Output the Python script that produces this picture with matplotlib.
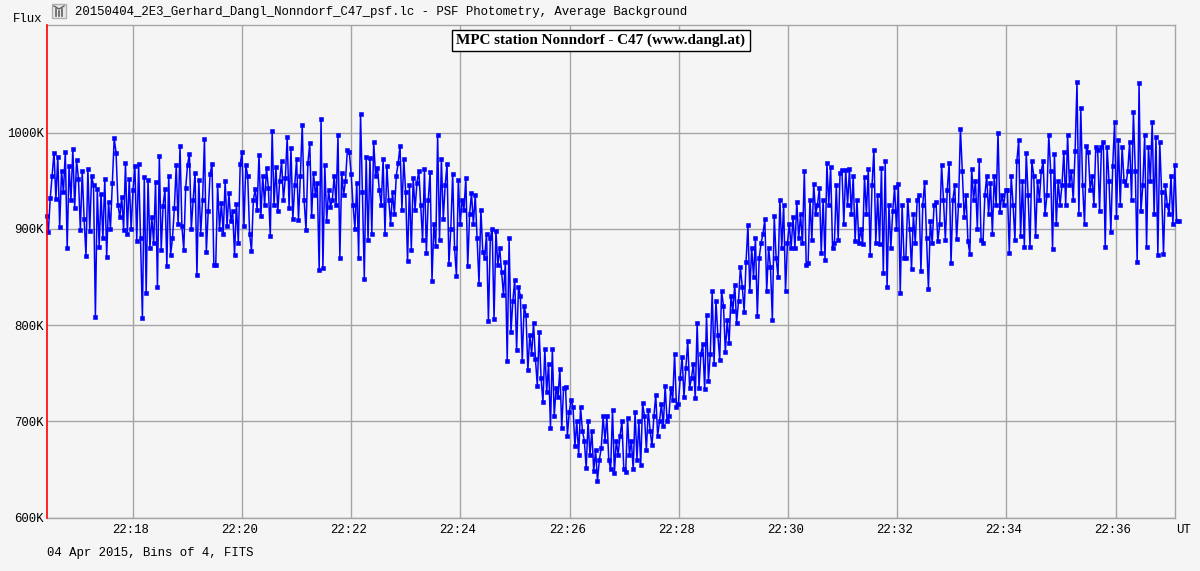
import numpy as np
import matplotlib
matplotlib.use("Agg")
import matplotlib.pyplot as plt
from matplotlib.patches import Rectangle
from matplotlib.transforms import ScaledTranslation

# flux readings in thousands in three stretches
flux_start = [
    913, 897, 932, 955, 979, 931, 975, 902, 960, 938,
    980, 880, 965, 930, 983, 922, 971, 952, 899, 960,
    910, 872, 962, 898, 955, 945, 808, 941, 881, 936,
    890, 952, 871, 928, 900, 948, 994, 979, 925, 912,
    933, 899, 968, 895, 952, 900, 940, 965, 887, 967,
    890, 807, 954, 833, 951, 880, 912, 885, 949, 840,
    976, 878, 924, 941, 861, 955, 873, 890, 922, 966,
    905, 986, 903, 878, 942, 966, 978, 900, 930, 958,
    852, 951, 895, 930, 993, 876, 918, 957, 967, 862,
    862, 945, 900, 927, 895, 950, 903, 937, 908, 918,
    873, 926, 885, 967, 980, 903, 966, 955, 895, 877,
    930, 941, 920, 977, 913, 955, 925, 963, 942, 892,
    1002, 925, 964, 918, 950, 970, 930, 953, 995, 922,
    984, 910, 945, 972, 909, 955, 1008, 930, 899, 968,
    989, 913, 958, 935, 948, 857, 1014, 859, 966, 908,
    940, 923, 930, 955, 925, 997, 870, 958, 935, 950,
    982, 980, 957, 925, 900, 948, 870, 1019, 938, 848,
    975, 888, 973, 895, 990, 955, 963, 940, 925, 972,
    895, 965, 930, 905, 938, 915, 955, 968,
]
flux_dip = [
    986, 920, 972, 938, 866, 945, 878, 953, 920, 948,
    960, 925, 888, 962, 875, 930, 959, 846, 905, 882,
    997, 888, 972, 910, 945, 967, 863, 900, 957, 880,
    851, 951, 905, 930, 920, 953, 861, 915, 937, 905,
    935, 890, 843, 920, 876, 870, 895, 804, 890, 900,
    806, 898, 862, 880, 855, 831, 865, 763, 890, 793,
    825, 847, 774, 840, 830, 763, 820, 810, 753, 790,
    770, 802, 765, 737, 793, 745, 720, 775, 730, 760,
    693, 775, 705, 735, 725, 754, 693, 735, 736, 685,
    710, 722, 715, 674, 700, 665, 715, 690, 680, 651,
    700, 665, 690, 648, 670, 638, 660, 672, 705, 680,
    705, 660, 650, 712, 646, 680, 665, 685, 700, 650,
    647, 703, 665, 680, 650, 710, 660, 700, 655, 719,
    705, 670, 712, 690, 675, 705, 727, 685, 700, 718,
    695, 737, 700, 705, 735, 722, 770, 715, 718, 745,
    767, 725, 755, 783, 735, 745, 760, 724, 802, 735,
    770, 780, 733, 810, 742, 770, 835, 760, 825, 790,
    764, 835, 820, 772, 805, 781, 830, 815, 842, 802,
    825, 860, 840, 814, 865, 904, 835, 880, 850, 890,
    809, 870, 885, 895, 910, 835, 880, 860, 805, 913,
    870, 850, 930, 880, 925, 835, 885, 905, 880, 912,
    880, 928, 890,
]
flux_end = [
    915, 885, 960, 862, 864, 930, 888, 947, 915, 925,
    942, 875, 930, 868, 968, 925, 964, 880, 885, 945,
    888, 958, 961, 905, 961, 925, 962, 915, 955, 887,
    930, 885, 900, 884, 954, 915, 962, 873, 945, 982,
    885, 935, 884, 963, 854, 970, 839, 925, 880, 918,
    943, 900, 946, 833, 925, 870, 870, 930, 900, 858,
    915, 885, 930, 935, 856, 925, 949, 890, 837, 908,
    885, 925, 928, 887, 905, 966, 930, 888, 940, 968,
    864, 930, 945, 889, 925, 1004, 960, 912, 935, 887,
    874, 962, 930, 950, 900, 971, 888, 885, 935, 955,
    915, 948, 895, 955, 925, 1000, 917, 935, 925, 940,
    940, 875, 955, 925, 888, 970, 992, 892, 950, 881,
    979, 935, 881, 970, 955, 892, 950, 930, 960, 970,
    915, 935, 997, 960, 879, 978, 905, 950, 925, 945,
    980, 925, 997, 945, 960, 930, 981, 1052, 915, 1025,
    945, 905, 986, 980, 940, 955, 925, 985, 982, 918,
    985, 990, 881, 985, 950, 897, 965, 1011, 912, 992,
    925, 985, 950, 945, 960, 990, 930, 1021, 960, 865,
    1051, 918, 945, 997, 881, 985, 950, 1011, 915, 995,
    873, 990, 938, 874, 945, 925, 915, 955, 905, 966,
    908, 908,
]
flux = np.array(flux_start + flux_dip + flux_end)

# regular cadence, minutes after 22:00
t_start = 16.416
cadence = 0.03445
minutes = t_start + cadence * np.arange(len(flux))

x_ticks = [18, 20, 22, 24, 26, 28, 30, 32, 34, 36]
x_labels = ["22:18", "22:20", "22:22", "22:24", "22:26", "22:28", "22:30", "22:32", "22:34", "22:36"]
y_ticks = [600, 700, 800, 900, 1000]
y_labels = ["600K", "700K", "800K", "900K", "1000K"]

bg = "#f5f5f5"
grid_col = "#a5a5a5"
mono = "Liberation Mono"
mono_size = 8.9

W, H = 1200, 571
fig = plt.figure(figsize=(W / 100, H / 100), dpi=100, facecolor=bg)
ax = fig.add_axes([46.5 / W, 1 - 517.5 / H, 1128.5 / W, 492.5 / H], facecolor=bg)

ax.plot(minutes, flux, color="#0000ff", lw=1.1, marker="s", ms=3, mew=0.4, clip_on=False, zorder=3)

ax.set_xlim(16.416, 37.09)
ax.set_ylim(600, 1111.7)
ax.set_xticks(x_ticks, x_labels, family=mono, fontsize=mono_size)
ax.set_yticks(y_ticks, y_labels, family=mono, fontsize=mono_size)
ax.tick_params(length=0, pad=5, axis="x")
ax.tick_params(length=0, pad=2, axis="y")
ax.grid(True, color=grid_col, lw=1)
ax.set_axisbelow(True)
for side in ["top", "right", "bottom"]:
    ax.spines[side].set_color(grid_col)
    ax.spines[side].set_linewidth(1)
ax.spines["left"].set_color("#ff0000")
ax.spines["left"].set_linewidth(1.2)
ax.spines["left"].set_zorder(5)

# the time labels sit a little left of their grid lines
shift = ScaledTranslation(-2.5 / 100, 0, fig.dpi_scale_trans)
for lab in ax.get_xticklabels():
    lab.set_transform(lab.get_transform() + shift)

# texts around the plot
fig.text(13 / W, 1 - 19 / H, "Flux", family=mono, fontsize=mono_size, va="center")
fig.text(75 / W, 1 - 12 / H, "20150404_2E3_Gerhard_Dangl_Nonndorf_C47_psf.lc - PSF Photometry, Average Background",
         family=mono, fontsize=mono_size, va="center")
fig.text(47 / W, 1 - 553 / H, "04 Apr 2015, Bins of 4, FITS", family=mono, fontsize=mono_size, va="center")
fig.text(1176 / W, 1 - 530 / H, "UT", family=mono, fontsize=mono_size, va="center")

fig.text(601 / W, 1 - 40.5 / H, "MPC station Nonndorf - C47 (www.dangl.at)", ha="center", va="center",
         family="Liberation Serif", fontweight="bold", fontsize=10.9, color="black", zorder=6,
         bbox=dict(facecolor="white", edgecolor="black", lw=1, boxstyle="square,pad=0.28"))

# little program icon left of the title
fig.add_artist(Rectangle((52 / W, 1 - 18 / H), 14 / W, 14 / H, transform=fig.transFigure,
                         facecolor="#e8e8e8", edgecolor="#b0b0b0", lw=1))
for px, top, bottom in [(56, 9, 16), (59, 11, 16), (62, 9, 16)]:
    fig.add_artist(plt.Line2D([px / W, px / W], [1 - top / H, 1 - bottom / H], color="#606060", lw=1.2))
fig.add_artist(plt.Line2D([54 / W, 59 / W, 64 / W], [1 - 6 / H, 1 - 9 / H, 1 - 6 / H], color="#606060", lw=1))

fig.savefig("out.png", dpi=100, facecolor=bg)
